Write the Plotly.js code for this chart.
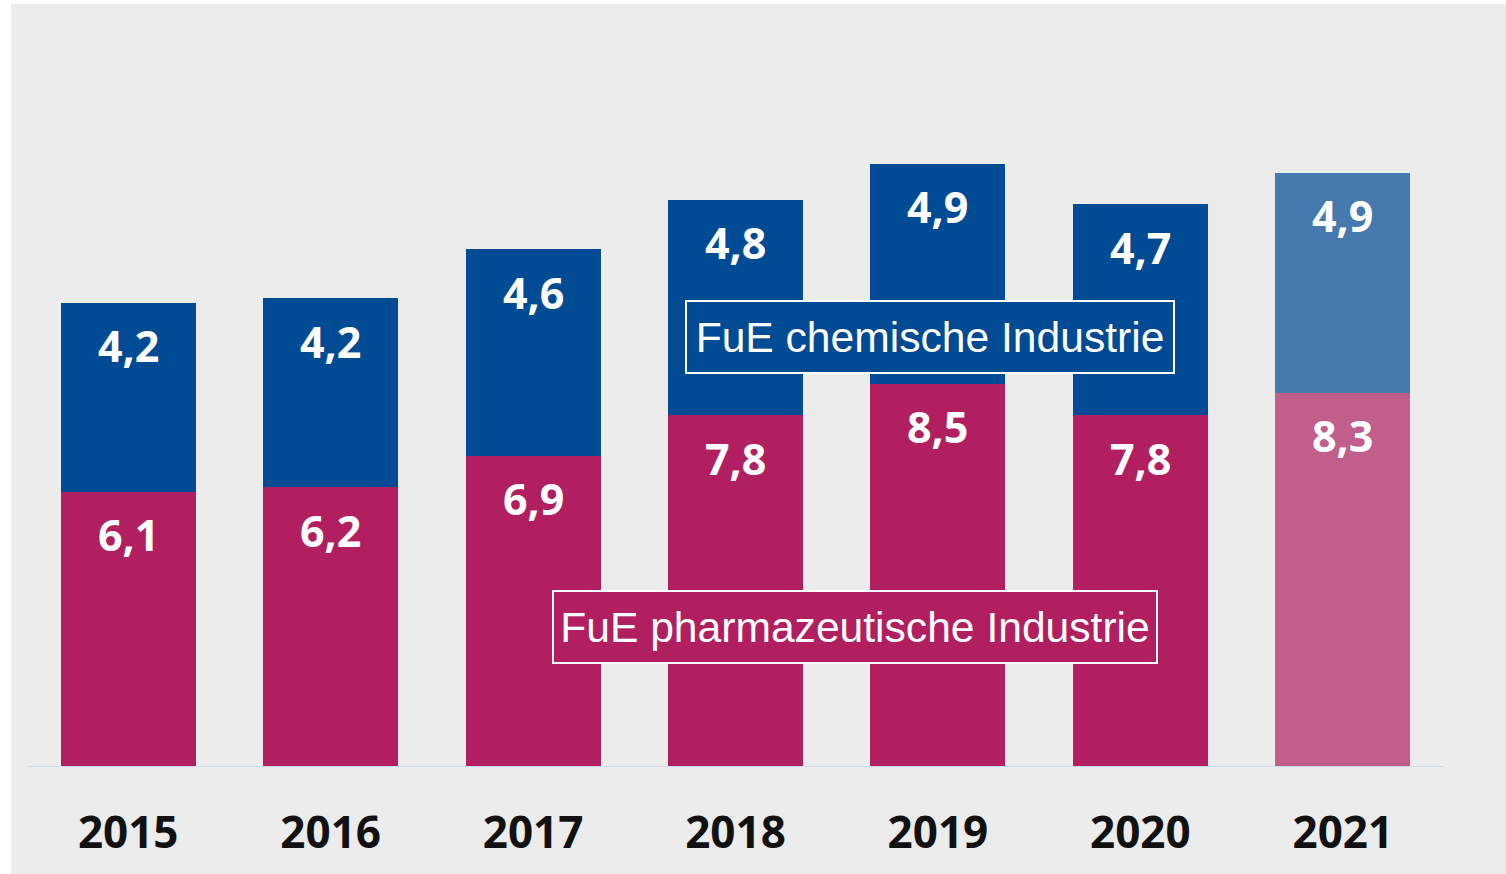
<!DOCTYPE html>
<html><head><meta charset="utf-8">
<script src="https://cdn.plot.ly/plotly-3.0.1.min.js"></script>
<style>
html,body{margin:0;padding:0;background:#ffffff;overflow:hidden;}
#chart{position:absolute;left:11px;top:4px;width:1495px;height:870px;}
</style></head>
<body><div id="chart"></div>
<script>
var years = ['2015','2016','2017','2018','2019','2020','2021'];
var pharma = [6.1, 6.2, 6.9, 7.8, 8.5, 7.8, 8.3];
var chemie = [4.2, 4.2, 4.6, 4.8, 4.9, 4.7, 4.9];
var pharmaColors = ['#b11f60','#b11f60','#b11f60','#b11f60','#b11f60','#b11f60','#c25e8b'];
var chemieColors = ['#004b93','#004b93','#004b93','#004b93','#004b93','#004b93','#4679ad'];
var seriesNames = ['FuE pharmazeutische Industrie','FuE chemische Industrie'];

function fmt(v){ return v.toFixed(1).replace('.', ','); }

var traces = [
  {type:'bar', x:years, y:pharma, name:seriesNames[0], marker:{color:pharmaColors}, hoverinfo:'none'},
  {type:'bar', x:years, y:chemie, name:seriesNames[1], marker:{color:chemieColors}, hoverinfo:'none'}
];

var numFont = {family:'"Open Sans", "Noto Sans", sans-serif', size:43, color:'#ffffff', weight:700};
var annotations = [];
for (var i=0;i<years.length;i++){
  annotations.push({x:i, y:pharma[i], xref:'x', yref:'y', text:'<b>'+fmt(pharma[i])+'</b>',
    showarrow:false, yanchor:'middle', yshift:-43, font:numFont});
  annotations.push({x:i, y:pharma[i]+chemie[i], xref:'x', yref:'y', text:'<b>'+fmt(chemie[i])+'</b>',
    showarrow:false, yanchor:'middle', yshift:-43, font:numFont});
}
var boxFont = {family:'"Liberation Sans", Arial, sans-serif', size:42.6, color:'#ffffff'};
annotations.push({xref:'paper', yref:'paper', x:0.6372, y:0.563, text:seriesNames[1], showarrow:false,
  xanchor:'center', yanchor:'middle', font:boxFont, bgcolor:chemieColors[0], bordercolor:'#ffffff',
  borderwidth:2, borderpad:0, width:486, height:70});
annotations.push({xref:'paper', yref:'paper', x:0.5843, y:0.1824, text:seriesNames[0], showarrow:false,
  xanchor:'center', yanchor:'middle', font:boxFont, bgcolor:pharmaColors[0], bordercolor:'#ffffff',
  borderwidth:2, borderpad:0, width:602, height:70});

var layout = {
  width:1495, height:870,
  margin:{l:16, r:62, t:0, b:108, pad:0},
  paper_bgcolor:'#ececec', plot_bgcolor:'#ececec',
  barmode:'stack', bargap:0.333, showlegend:false,
  xaxis:{type:'category', range:[-0.5,6.5], showline:true, linecolor:'#c8dbef', linewidth:1,
    showgrid:false, zeroline:false, ticks:'', ticklabelstandoff:28,
    tickfont:{family:'"Open Sans", "Noto Sans", sans-serif', size:44, color:'#111111', weight:700}},
  yaxis:{range:[0,16.95], showgrid:false, zeroline:false, showticklabels:false, showline:false, ticks:''},
  annotations:annotations
};
Plotly.newPlot('chart', traces, layout, {displayModeBar:false, staticPlot:true});
</script></body></html>
